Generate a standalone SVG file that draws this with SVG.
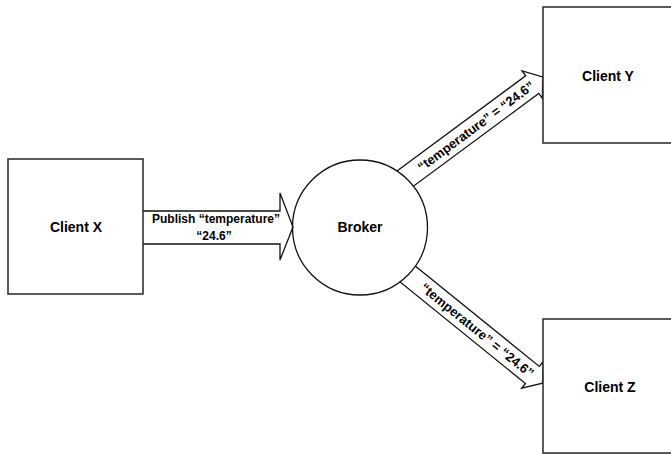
<svg xmlns="http://www.w3.org/2000/svg" width="671" height="454" viewBox="0 0 671 454">
  <style>
    .box { fill: #ffffff; stroke: #333333; stroke-width: 1.6; }
    .arrow { fill: #ffffff; stroke: #111111; stroke-width: 1.3; stroke-linejoin: miter; }
    .label { font-family: "Liberation Sans", Arial, sans-serif; font-weight: bold; font-size: 14px; fill: #000000; text-anchor: middle; }
    .alabel { font-family: "Liberation Sans", Arial, sans-serif; font-weight: bold; font-size: 13px; fill: #000000; text-anchor: middle; }
  </style>
  <rect width="671" height="454" fill="#ffffff"/>
  <g id="connectors">
    <g id="arrow-broker-y" transform="translate(406,178) rotate(-36.5)">
      <path class="arrow" d="M-14,-11 L157,-11 L157,-17 L170,0 L157,17 L157,11 L-14,11 Z"/>
      <text class="alabel" x="87" y="4.5">“temperature” = “24.6”</text>
    </g>
    <g id="arrow-broker-z" transform="translate(406.5,273) rotate(39)">
      <path class="arrow" d="M-14,-11 L162,-11 L162,-17 L175,0 L162,17 L162,11 L-14,11 Z"/>
      <text class="alabel" x="91" y="4.5">“temperature” = “24.6”</text>
    </g>
  </g>
  <g id="broker">
    <circle class="box" cx="360" cy="227.5" r="67.5" style="stroke:#111111;stroke-width:1.3"/>
    <text class="label" x="360" y="232">Broker</text>
  </g>
  <g id="arrow-x-broker">
    <path class="arrow" style="fill:none" d="M143,211 L280,211 L280,193 L293,227 L280,260 L280,244 L143,244"/>
    <text class="alabel" x="216" y="223" style="font-size:12px">Publish “temperature”</text>
    <text class="alabel" x="214" y="240" style="font-size:12px">“24.6”</text>
  </g>
  <g id="client-x">
    <rect class="box" x="8" y="159" width="135" height="135"/>
    <text class="label" x="76" y="232">Client X</text>
  </g>
  <g id="client-y">
    <rect class="box" x="543" y="7" width="140" height="136"/>
    <text class="label" x="608" y="81">Client Y</text>
  </g>
  <g id="client-z">
    <rect class="box" x="543" y="319" width="140" height="134"/>
    <text class="label" x="610" y="392">Client Z</text>
  </g>
</svg>
